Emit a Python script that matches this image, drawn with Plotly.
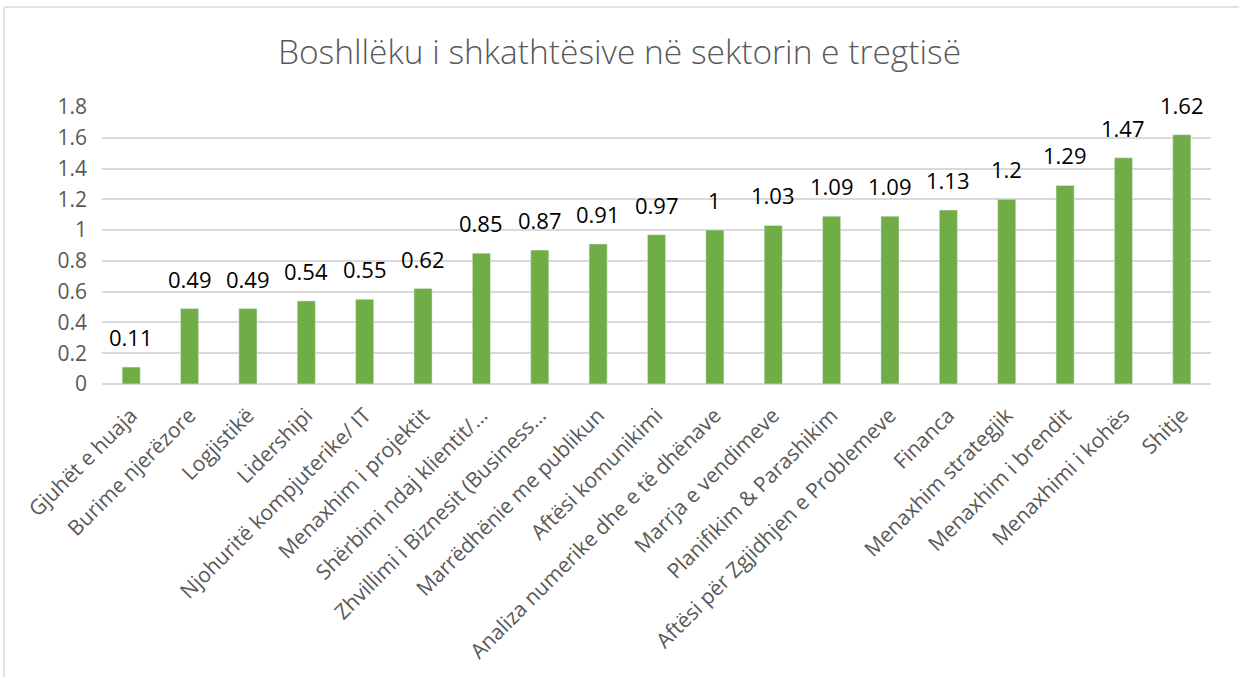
import plotly.graph_objects as go

categories = [
    "Gjuhët e huaja", "Burime njerëzore", "Logjistikë", "Lidershipi",
    "Njohuritë kompjuterike/ IT", "Menaxhim i projektit", "Shërbimi ndaj klientit/…",
    "Zhvillimi i Biznesit (Business…", "Marrëdhënie me publikun", "Aftësi komunikimi",
    "Analiza numerike dhe e të dhënave", "Marrja e vendimeve", "Planifikim & Parashikim",
    "Aftësi për Zgjidhjen e Problemeve", "Financa", "Menaxhim strategjik",
    "Menaxhim i brendit", "Menaxhimi i kohës", "Shitje",
]
values = [0.11, 0.49, 0.49, 0.54, 0.55, 0.62, 0.85, 0.87, 0.91, 0.97, 1, 1.03,
          1.09, 1.09, 1.13, 1.2, 1.29, 1.47, 1.62]
labels = [f"{v:g}" for v in values]
yticks = [0, 0.2, 0.4, 0.6, 0.8, 1, 1.2, 1.4, 1.6, 1.8]
ytext = ["0", "0.2", "0.4", "0.6", "0.8", "1", "1.2", "1.4", "1.6", "1.8"]

W, H = 1239, 677
ml, mr, mt, mb = 102, 28, 107, 293

fig = go.Figure(go.Bar(
    x=categories, y=values,
    marker=dict(color="#70ad47"),
))

for c, v, t in zip(categories, values, labels):
    fig.add_annotation(x=c, y=v, text=t, showarrow=False, yanchor="bottom",
                       xanchor="center", yshift=13,
                       font=dict(family="Open Sans", size=22, color="#000000"))

pw, ph = W - ml - mr, H - mt - mb
fig.update_layout(
    width=W, height=H,
    margin=dict(l=ml, r=mr, t=mt, b=mb, autoexpand=False),
    paper_bgcolor="white", plot_bgcolor="white",
    bargap=0.69,
    title=dict(text="Boshllëku i shkathtësive në sektorin e tregtisë",
               x=0.5, xanchor="center", y=1 - 52 / H, yanchor="middle",
               font=dict(family="Open Sans", size=33.5, color="#595959", weight=300)),
    xaxis=dict(tickangle=-45, tickfont=dict(family="Open Sans", size=21, color="#595959"),
               showgrid=False, showline=False, ticks="", ticklabelstandoff=14),
    yaxis=dict(range=[0, 1.8], tickvals=yticks, ticktext=ytext,
               tickfont=dict(family="Open Sans", size=21, color="#595959"),
               gridcolor="#d9d9d9", gridwidth=1.5, zeroline=True, zerolinecolor="#d9d9d9",
               zerolinewidth=1.5, showline=False, ticks="", ticklabelstandoff=14),
    showlegend=False,
    shapes=[
        dict(type="line", xref="paper", yref="paper",
             x0=(4 - ml) / pw, x1=(4 - ml) / pw, y0=1 + (mt - 7) / ph, y1=-(mb + 5) / ph,
             line=dict(color="#d9d9d9", width=1.5)),
        dict(type="line", xref="paper", yref="paper",
             x0=(4 - ml) / pw, x1=1 + (mr + 5) / pw, y0=1 + (mt - 7) / ph, y1=1 + (mt - 7) / ph,
             line=dict(color="#d9d9d9", width=1.5)),
    ],
)
fig.write_html("out.html", config={"displayModeBar": False},
               post_script="document.body.style.margin='0';document.body.style.overflow='hidden';")
